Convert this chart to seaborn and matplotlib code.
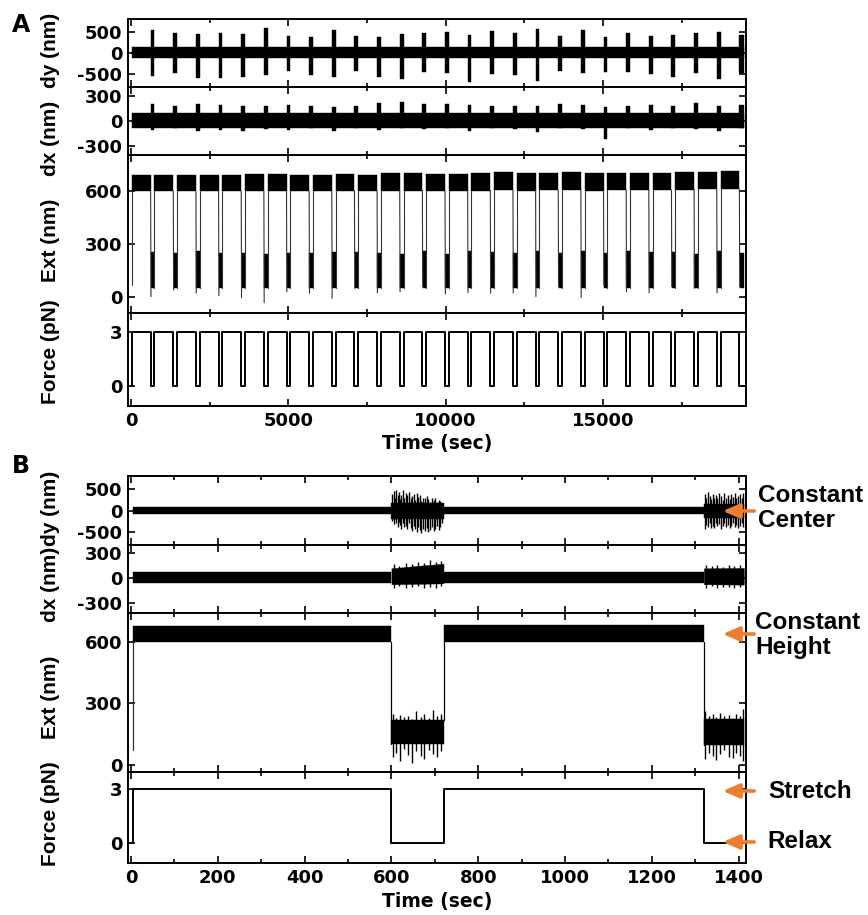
import matplotlib
matplotlib.use("Agg")
import matplotlib.pyplot as plt
import seaborn as sns
from matplotlib.ticker import MultipleLocator
from matplotlib.patches import FancyArrowPatch

sns.set_theme(style="ticks")
plt.rcParams['font.family'] = ['DejaVu Sans']
plt.rcParams['font.weight'] = 'bold'
plt.rcParams['axes.unicode_minus'] = False
for k in ['text.color', 'axes.labelcolor', 'xtick.color', 'ytick.color', 'axes.edgecolor']:
    plt.rcParams[k] = 'black'

# ---------------- Panel A data ----------------
A_t_begin = 20
A_t_end = 19480
A_relax_start = [620, 1340, 2060, 2780, 3500, 4220, 4940, 5660, 6380, 7100, 7820, 8540, 9260, 9980,
                 10700, 11420, 12140, 12860, 13580, 14300, 15020, 15740, 16460, 17180, 17900, 18620, 19340]
A_relax_end = [740, 1460, 2180, 2900, 3620, 4340, 5060, 5780, 6500, 7220, 7940, 8660, 9380, 10100,
               10820, 11540, 12260, 12980, 13700, 14420, 15140, 15860, 16580, 17300, 18020, 18740, 19480]
A_force_levels = [0, 3]

A_dy_band = [-115, 150]
A_dy_hi = [548, 468, 444, 484, 452, 587, 405, 389, 548, 405, 389, 444, 468, 508, 429, 532, 468, 571,
           405, 548, 373, 468, 405, 429, 468, 492, 429]
A_dy_lo = [-548, -468, -603, -603, -579, -524, -421, -524, -579, -429, -563, -627, -444, -484, -683,
           -500, -524, -659, -421, -484, -444, -444, -500, -579, -484, -627, -468]

A_dx_band = [-80, 100]
A_dx_hi = [204, 180, 204, 192, 180, 180, 192, 180, 172, 180, 220, 232, 204, 204, 192, 180, 180, 180,
           204, 192, 172, 180, 192, 180, 220, 180, 192]
A_dx_lo = [-108, -88, -116, -108, -116, -100, -108, -88, -116, -88, -108, -88, -100, -88, -116, -88,
           -100, -128, -88, -100, -220, -88, -108, -88, -100, -116, -88]

A_ext_top = [685, 688, 690, 688, 690, 692, 695, 690, 688, 692, 690, 698, 698, 693, 693, 697, 702, 697,
             697, 702, 697, 697, 697, 697, 707, 707, 712]
A_ext_bot = [595, 596, 595, 597, 596, 595, 598, 596, 597, 598, 597, 600, 600, 597, 600, 600, 602, 600,
             601, 603, 600, 602, 603, 602, 605, 606, 606]
A_ext_relax_hi = [255, 250, 262, 250, 248, 245, 250, 248, 252, 255, 250, 245, 258, 240, 262, 255, 250,
                  258, 250, 262, 248, 258, 252, 255, 245, 258, 250]
A_ext_relax_lo = 50
A_ext_min = [2, 39, 21, 7, -4, -32, 30, 21, -7, 49, 24, 30, 58, 17, 24, 21, 24, 2, 58, -2, 67, 30, 24,
             58, 49, 24, 58]
A_ext_start = 70

# ---------------- Panel B data ----------------
B_force_t = [0, 5, 5, 600, 600, 720, 720, 1320, 1320, 1412]
B_force_v = [0, 0, 3, 3, 0, 0, 3, 3, 0, 0]
B_stretch_start = [5, 720]
B_stretch_end = [600, 1320]
B_relax_start = [600, 1320]
B_relax_end = [720, 1412]

B_dy_band = [-85, 90]
B_dy_core_hi = [170, 160]
B_dy_core_lo = [-190, -180]
B_dy_spk_t1 = [602, 605, 608, 611, 614, 617, 620, 623, 627, 630, 634, 637, 641, 644, 648, 651, 655, 658,
               662, 666, 669, 673, 677, 681, 685, 689, 693, 697, 701, 705, 709, 713, 717]
B_dy_spk_hi1 = [380, 450, 300, 480, 350, 420, 260, 360, 470, 300, 400, 350, 440, 280, 330, 380, 250, 400,
                320, 360, 230, 300, 280, 330, 260, 200, 300, 240, 280, 200, 250, 220, 180]
B_dy_spk_lo1 = [-250, -320, -200, -290, -380, -260, -330, -420, -300, -380, -350, -440, -300, -400, -480,
                -360, -420, -500, -380, -460, -520, -430, -480, -400, -510, -450, -390, -470, -420, -360,
                -450, -380, -300]
B_dy_spk_t2 = [1322, 1325, 1329, 1333, 1336, 1340, 1344, 1348, 1351, 1355, 1359, 1363, 1367, 1371,
               1375, 1379, 1383, 1387, 1391, 1395, 1399, 1403, 1407, 1411]
B_dy_spk_hi2 = [380, 300, 420, 340, 260, 390, 280, 360, 300, 400, 330, 250, 410, 300, 350, 270, 380, 320,
                400, 290, 340, 380, 300, 410]
B_dy_spk_lo2 = [-420, -330, -380, -300, -400, -360, -410, -280, -370, -320, -420, -350, -300, -380,
                -330, -400, -360, -300, -380, -330, -400, -350, -300, -380]

B_dx_band = [-60, 72]
B_dx_env_t1 = [600, 660, 720]
B_dx_env_hi1 = [120, 150, 175]
B_dx_env_lo1 = [-70, -65, -60]
B_dx_spk_t1 = [606, 618, 633, 647, 662, 676, 690, 703, 715]
B_dx_spk_hi1 = [170, 150, 185, 170, 200, 190, 215, 200, 210]
B_dx_spk_lo1 = [-110, -90, -120, -100, -95, -115, -100, -110, -90]
B_dx_env_t2 = [1320, 1412]
B_dx_env_hi2 = [120, 125]
B_dx_env_lo2 = [-70, -75]
B_dx_spk_t2 = [1325, 1338, 1350, 1363, 1377, 1390, 1404]
B_dx_spk_hi2 = [165, 150, 160, 140, 155, 150, 165]
B_dx_spk_lo2 = [-110, -95, -120, -100, -105, -115, -100]

B_ext_stretch_lo = [600, 600]
B_ext_stretch_hi = [675, 680]
B_ext_core_lo = [100, 95]
B_ext_core_hi = [220, 225]
B_ext_spk_t1 = [603, 611, 620, 629, 638, 648, 657, 667, 676, 686, 695, 705, 714]
B_ext_spk_hi1 = [250, 230, 245, 235, 240, 225, 260, 235, 250, 230, 265, 240, 250]
B_ext_spk_lo1 = [40, 60, 20, 75, 50, 10, 65, 45, 30, 70, 55, 40, 65]
B_ext_spk_t2 = [1323, 1331, 1340, 1349, 1358, 1367, 1377, 1386, 1395, 1404, 1410]
B_ext_spk_hi2 = [260, 240, 250, 235, 255, 240, 245, 230, 250, 240, 270]
B_ext_spk_lo2 = [30, 60, 45, 25, 55, 70, 40, 35, 60, 45, 20]
B_ext_start = 70

# ---------------- Figure ----------------
W, H = 868, 915
fig = plt.figure(figsize=(W / 100, H / 100), dpi=100)
fig.patch.set_facecolor('white')
ORANGE = '#ED7D31'
LABEL_FONT = ['Liberation Sans', 'DejaVu Sans']


def add_ax(top, bot, left=128, right=746):
    return fig.add_axes([left / W, 1 - bot / H, (right - left) / W, (bot - top) / H])


def style(ax, xlim, ylim, yticks, xmajor, xminor, show_x):
    ax.set_xlim(*xlim)
    ax.set_ylim(*ylim)
    ax.set_yticks(yticks)
    ax.xaxis.set_major_locator(MultipleLocator(xmajor))
    ax.xaxis.set_minor_locator(MultipleLocator(xminor))
    ax.tick_params(axis='both', which='both', direction='in', top=True, right=True,
                   width=1.2, color='black', labelcolor='black')
    ax.tick_params(which='major', length=5)
    ax.tick_params(which='minor', length=3)
    ax.tick_params(axis='y', labelsize=13, pad=4)
    ax.tick_params(axis='x', labelsize=13, pad=4, labelbottom=show_x)
    for s in ax.spines.values():
        s.set_visible(True)
        s.set_linewidth(1.4)
        s.set_color('black')
    ax.set_xlabel('')
    ax.set_ylabel('')
    ax.set_facecolor('white')
    for lab in ax.get_xticklabels() + ax.get_yticklabels():
        lab.set_fontweight('bold')


def band(ax, t0, t1, lo, hi):
    ax.fill_between([t0, t1], [lo, lo], [hi, hi], color='black', lw=0.3)


# ================= Panel A =================
A_stretch_start = [A_t_begin] + A_relax_end[:-1]
A_stretch_end = A_relax_start

axA_dy = add_ax(19, 87)
band(axA_dy, A_t_begin, A_t_end, A_dy_band[0], A_dy_band[1])
for s, e, lo, hi in zip(A_relax_start, A_relax_end, A_dy_lo, A_dy_hi):
    band(axA_dy, s, e, lo, hi)
style(axA_dy, (-100, 19550), (-810, 810), [-500, 0, 500], 5000, 2500, False)

axA_dx = add_ax(87, 155)
band(axA_dx, A_t_begin, A_t_end, A_dx_band[0], A_dx_band[1])
for s, e, lo, hi in zip(A_relax_start, A_relax_end, A_dx_lo, A_dx_hi):
    band(axA_dx, s, e, lo, hi)
style(axA_dx, (-100, 19550), (-405, 405), [-300, 0, 300], 5000, 2500, False)

axA_ext = add_ax(155, 313)
for i, (s, e) in enumerate(zip(A_stretch_start, A_stretch_end)):
    band(axA_ext, s, e, A_ext_bot[i], A_ext_top[i])
for i, (s, e) in enumerate(zip(A_relax_start, A_relax_end)):
    band(axA_ext, s + 10, e, A_ext_relax_lo, A_ext_relax_hi[i])
    sns.lineplot(x=[s, s + 10], y=[A_ext_bot[i], A_ext_min[i]], ax=axA_ext, color='#333333',
                 linewidth=0.8, estimator=None, sort=False)
    if i + 1 < len(A_ext_bot):
        sns.lineplot(x=[e, e], y=[A_ext_relax_lo, A_ext_bot[i + 1]], ax=axA_ext, color='#333333',
                     linewidth=0.8, estimator=None, sort=False)
sns.lineplot(x=[A_t_begin, A_t_begin], y=[A_ext_start, A_ext_bot[0]], ax=axA_ext, color='#333333',
             linewidth=0.8, estimator=None, sort=False)
style(axA_ext, (-100, 19550), (-90, 800), [0, 300, 600], 5000, 2500, False)

axA_f = add_ax(313, 406)
fa_t = [0, A_t_begin, A_t_begin]
fa_v = [A_force_levels[0], A_force_levels[0], A_force_levels[1]]
for s, e in zip(A_relax_start, A_relax_end):
    fa_t += [s, s, e]
    fa_v += [A_force_levels[1], A_force_levels[0], A_force_levels[0]]
    if e < A_t_end:
        fa_t += [e]
        fa_v += [A_force_levels[1]]
sns.lineplot(x=fa_t, y=fa_v, ax=axA_f, color='black', linewidth=1.4, estimator=None, sort=False)
style(axA_f, (-100, 19550), (-1.1, 4.05), [0, 3], 5000, 2500, True)

# ================= Panel B =================
axB_dy = add_ax(476, 545)
for s, e in zip(B_stretch_start, B_stretch_end):
    band(axB_dy, s, e, B_dy_band[0], B_dy_band[1])
for i, (s, e) in enumerate(zip(B_relax_start, B_relax_end)):
    band(axB_dy, s, e, B_dy_core_lo[i], B_dy_core_hi[i])
axB_dy.vlines(B_dy_spk_t1, B_dy_spk_lo1, B_dy_spk_hi1, color='black', lw=1.0)
axB_dy.vlines(B_dy_spk_t2, B_dy_spk_lo2, B_dy_spk_hi2, color='black', lw=1.0)
style(axB_dy, (-7, 1417), (-800, 800), [-500, 0, 500], 200, 100, False)

axB_dx = add_ax(545, 613)
for s, e in zip(B_stretch_start, B_stretch_end):
    band(axB_dx, s, e, B_dx_band[0], B_dx_band[1])
axB_dx.fill_between(B_dx_env_t1, B_dx_env_lo1, B_dx_env_hi1, color='black', lw=0.3)
axB_dx.fill_between(B_dx_env_t2, B_dx_env_lo2, B_dx_env_hi2, color='black', lw=0.3)
axB_dx.vlines(B_dx_spk_t1, B_dx_spk_lo1, B_dx_spk_hi1, color='black', lw=1.0)
axB_dx.vlines(B_dx_spk_t2, B_dx_spk_lo2, B_dx_spk_hi2, color='black', lw=1.0)
style(axB_dx, (-7, 1417), (-415, 400), [-300, 0, 300], 200, 100, False)

axB_ext = add_ax(613, 772)
for i, (s, e) in enumerate(zip(B_stretch_start, B_stretch_end)):
    band(axB_ext, s, e, B_ext_stretch_lo[i], B_ext_stretch_hi[i])
for i, (s, e) in enumerate(zip(B_relax_start, B_relax_end)):
    band(axB_ext, s, e, B_ext_core_lo[i], B_ext_core_hi[i])
axB_ext.vlines(B_ext_spk_t1, B_ext_spk_lo1, B_ext_spk_hi1, color='black', lw=1.0)
axB_ext.vlines(B_ext_spk_t2, B_ext_spk_lo2, B_ext_spk_hi2, color='black', lw=1.0)
sns.lineplot(x=[B_stretch_start[0], B_stretch_start[0]], y=[B_ext_start, B_ext_stretch_lo[0]],
             ax=axB_ext, color='#333333', linewidth=0.9, estimator=None, sort=False)
for i, s in enumerate(B_relax_start):
    sns.lineplot(x=[s, s], y=[B_ext_stretch_lo[i], B_ext_core_lo[i]], ax=axB_ext, color='black',
                 linewidth=0.9, estimator=None, sort=False)
sns.lineplot(x=[B_relax_end[0], B_relax_end[0]], y=[B_ext_core_hi[0], B_ext_stretch_lo[1]],
             ax=axB_ext, color='black', linewidth=0.9, estimator=None, sort=False)
style(axB_ext, (-7, 1417), (-35, 740), [0, 300, 600], 200, 100, False)

axB_f = add_ax(772, 863)
sns.lineplot(x=B_force_t, y=B_force_v, ax=axB_f, color='black', linewidth=1.4, estimator=None, sort=False)
style(axB_f, (-7, 1417), (-1.1, 3.94), [0, 3], 200, 100, True)

# ---------------- Labels ----------------
def ylab(y, text):
    fig.text(51 / W, 1 - y / H, text, rotation=90, ha='center', va='center', fontsize=15,
             fontweight='bold', family=LABEL_FONT, color='black')

for y, t in [(50, 'dy (nm)'), (138, 'dx (nm)'), (240, 'Ext (nm)'), (352, 'Force (pN)'),
             (508, 'dy (nm)'), (584, 'dx (nm)'), (697, 'Ext (nm)'), (814, 'Force (pN)')]:
    ylab(y, t)

fig.text(437 / W, 1 - 443 / H, 'Time (sec)', ha='center', va='center', fontsize=13.5,
         fontweight='bold', color='black')
fig.text(437 / W, 1 - 902 / H, 'Time (sec)', ha='center', va='center', fontsize=13.5,
         fontweight='bold', color='black')

fig.text(21 / W, 1 - 25 / H, 'A', ha='center', va='center', fontsize=17, fontweight='bold', color='black')
fig.text(21 / W, 1 - 466 / H, 'B', ha='center', va='center', fontsize=17, fontweight='bold', color='black')

# ---------------- Annotations ----------------
def arrow(y):
    fig.add_artist(FancyArrowPatch((757 / W, 1 - y / H), (720 / W, 1 - y / H), transform=fig.transFigure,
                                   arrowstyle='-|>,head_length=0.55,head_width=0.24', mutation_scale=18,
                                   color=ORANGE, lw=2.6))

for y in [511, 634, 791, 842]:
    arrow(y)

def note(x, y, text):
    fig.text(x / W, 1 - y / H, text, ha='left', va='center', fontsize=17.5, fontweight='bold',
             family=LABEL_FONT, linespacing=1.15, color='black')

note(758, 508, 'Constant\nCenter')
note(755, 635, 'Constant\nHeight')
note(768, 792, 'Stretch')
note(767, 842, 'Relax')

fig.savefig('out.png', dpi=100, facecolor='white')
